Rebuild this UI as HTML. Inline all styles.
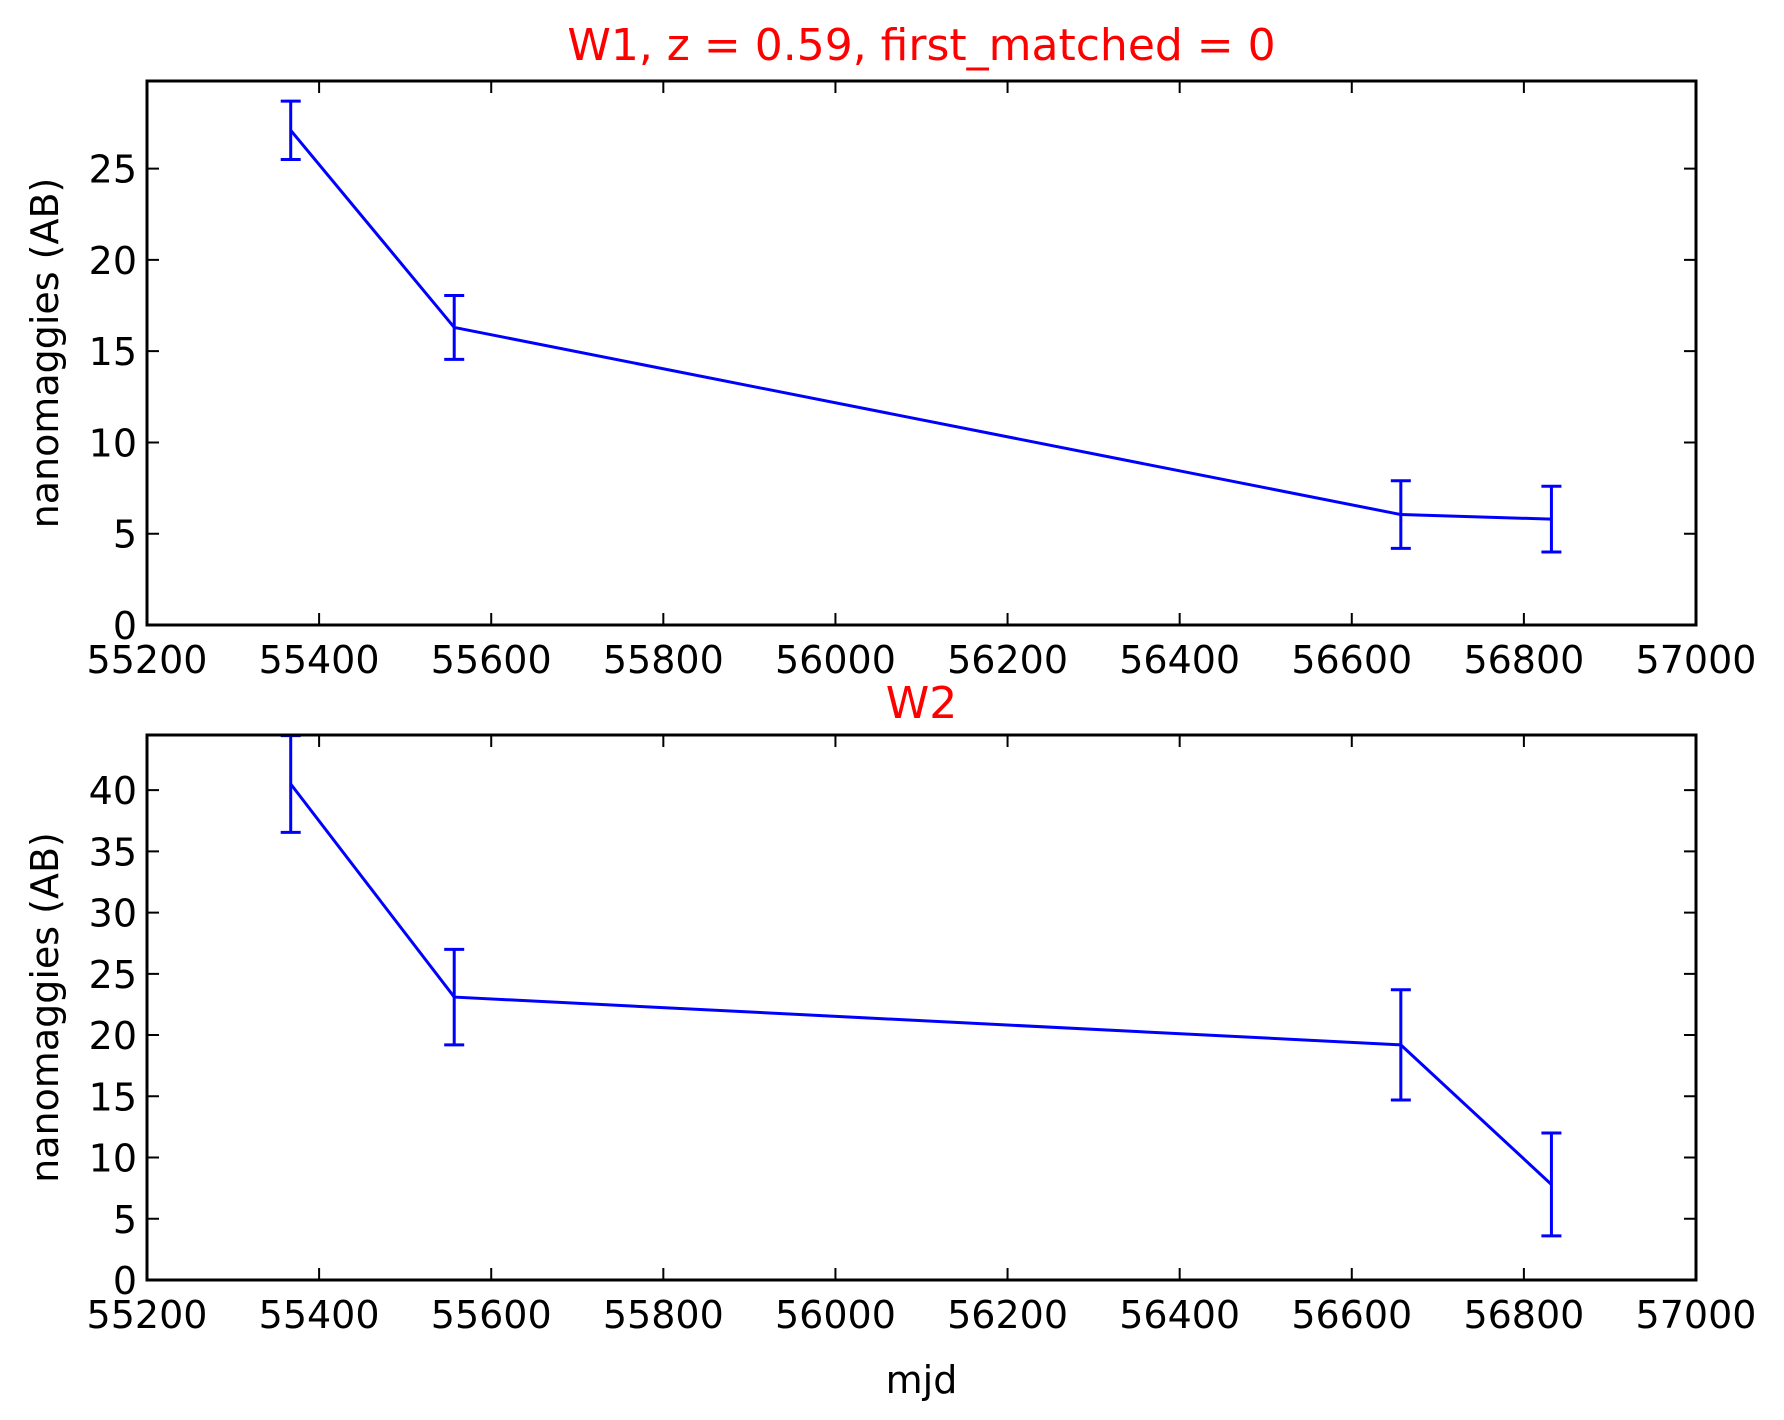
<!DOCTYPE html>
<html><head><meta charset="utf-8"><style>
html,body{margin:0;padding:0;background:#fff;}
svg{display:block;font-family:"DejaVu Sans","Liberation Sans",sans-serif;}
</style></head><body>
<svg id="chart" width="1784" height="1420" viewBox="0 0 1784 1420"></svg>
<script>
const mjdW1 = [55367, 55557, 56657, 56832];
const fluxW1 = [27.1, 16.3, 6.05, 5.8];
const errW1 = [1.6, 1.75, 1.85, 1.8];
const mjdW2 = [55367, 55557, 56657, 56832];
const fluxW2 = [40.5, 23.1, 19.2, 7.8];
const errW2 = [3.95, 3.9, 4.5, 4.2];
const xTicks = [55200, 55400, 55600, 55800, 56000, 56200, 56400, 56600, 56800, 57000];
const yTicksW1 = [0, 5, 10, 15, 20, 25];
const yTicksW2 = [0, 5, 10, 15, 20, 25, 30, 35, 40];

const NS = "http://www.w3.org/2000/svg";
const svg = document.getElementById('chart');
function mk(tag, attrs, parent) {
  const e = document.createElementNS(NS, tag);
  for (const k in attrs) e.setAttribute(k, attrs[k]);
  (parent || svg).appendChild(e);
  return e;
}
const L = 147, R = 1696, XMIN = 55200, XMAX = 57000;
function xs(v) { return L + (v - XMIN) / (XMAX - XMIN) * (R - L); }

function panel(name, top, bottom, ymax, yTicks, mjd, flux, err, title, titleY) {
  const g = mk('g', {});
  
  
  const ys = v => bottom - v / ymax * (bottom - top);
  const t = mk('text', {x: (L + R) / 2, y: titleY, 'text-anchor': 'middle', 'font-size': 44, fill: '#ff0000'}, g);
  t.textContent = title;
  
  
  xTicks.forEach(v => {
    const x = xs(v);
    const tk = mk('path', {d: `M${x},${bottom}v-12M${x},${top}v12`, stroke: '#000', 'stroke-width': 2}, g);
    
    
    const lb = mk('text', {x: x, y: bottom + 48, 'text-anchor': 'middle', 'font-size': 38, fill: '#000'}, g);
    lb.textContent = v;
    
    
  });
  yTicks.forEach(v => {
    const y = ys(v);
    const tk = mk('path', {d: `M${L},${y}h12M${R},${y}h-12`, stroke: '#000', 'stroke-width': 2}, g);
    
    
    const lb = mk('text', {x: L - 10, y: y + 14, 'text-anchor': 'end', 'font-size': 38, fill: '#000'}, g);
    lb.textContent = v;
    
    
  });
  const yl = mk('text', {x: 0, y: 0, transform: `translate(58,${(top + bottom) / 2}) rotate(-90)`, 'text-anchor': 'middle', 'font-size': 38, fill: '#000'}, g);
  yl.textContent = 'nanomaggies (AB)';
  
  
  const clip = mk('clipPath', {id: 'clip-' + name}, g);
  mk('rect', {x: L, y: top, width: R - L, height: bottom - top}, clip);
  const pts = mjd.map((m, i) => `${xs(m)},${ys(flux[i])}`).join(' ');
  const line = mk('polyline', {points: pts, fill: 'none', stroke: '#0000ff', 'stroke-width': 3, 'clip-path': `url(#clip-${name})`}, g);
  
  
  mjd.forEach((m, i) => {
    const x = xs(m), y1 = ys(flux[i] + err[i]), y2 = ys(flux[i] - err[i]);
    const eb = mk('path', {d: `M${x},${y1}V${y2}M${x - 10},${y1}h20M${x - 10},${y2}h20`, stroke: '#0000ff', 'stroke-width': 3, fill: 'none', 'clip-path': `url(#clip-${name})`}, g);
    
    
  });
  const fr = mk('rect', {x: L, y: top, width: R - L, height: bottom - top, fill: 'none', stroke: '#000', 'stroke-width': 3}, g);
  
  
}
panel('w1', 81, 625, 29.8, yTicksW1, mjdW1, fluxW1, errW1, 'W1, z = 0.59, first_matched = 0', 60);
panel('w2', 735, 1280, 44.5, yTicksW2, mjdW2, fluxW2, errW2, 'W2', 718);
const xl = mk('text', {x: (L + R) / 2, y: 1393, 'text-anchor': 'middle', 'font-size': 38, fill: '#000'});
xl.textContent = 'mjd';


</script>
</body></html>
